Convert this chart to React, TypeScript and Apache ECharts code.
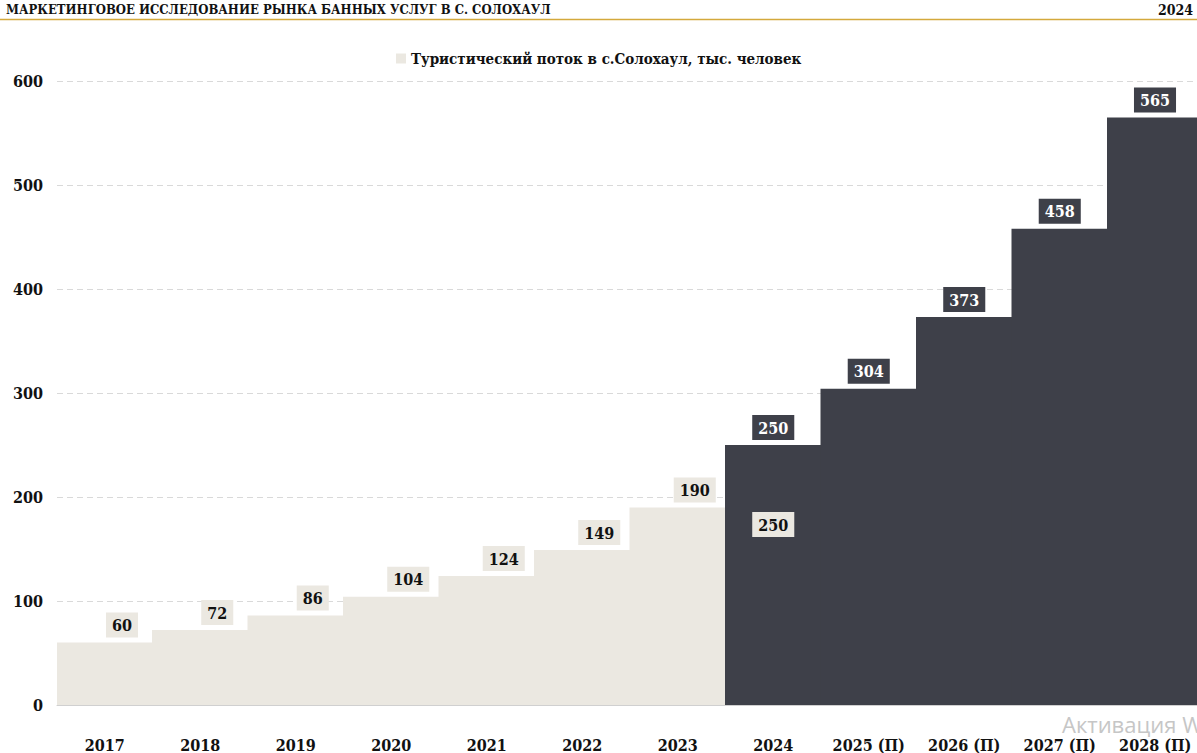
import React, { useEffect, useRef } from "react";
import * as echarts from "echarts";

const categories = ["2017", "2018", "2019", "2020", "2021", "2022", "2023", "2024", "2025 (П)", "2026 (П)", "2027 (П)", "2028 (П)"];
const historyValues = [60, 72, 86, 104, 124, 149, 190, 250, null, null, null, null];
const forecastValues = [null, null, null, null, null, null, null, 250, 304, 373, 458, 565];
const yTicks = [0, 100, 200, 300, 400, 500, 600];
const legendName = "Туристический поток в с.Солохаул, тыс. человек";
const titleText = "МАРКЕТИНГОВОЕ ИССЛЕДОВАНИЕ РЫНКА БАННЫХ УСЛУГ В С. СОЛОХАУЛ";
const yearText = "2024";

const SERIF = "'DejaVu Serif Condensed', 'DejaVu Serif', serif";
const BEIGE = "#ebe8e1";
const DARK = "#3e4049";

export default function App() {
  const ref = useRef<HTMLDivElement>(null);
  useEffect(() => {
    if (!ref.current) return;
    const chart = echarts.init(ref.current, null, { renderer: "svg" });
    const histData = historyValues.map((v, i) => {
      if (v === null) return "-";
      if (i === 7) {
        return { value: v, label: { position: "insideTop", distance: 67, offset: [0, 0] } };
      }
      return v;
    });
    const fcData = forecastValues.map((v) => (v === null ? "-" : v));
    const labelBase = {
      show: true,
      fontFamily: SERIF,
      fontWeight: "bold",
      fontSize: 16,
      padding: [5, 6, 4, 6],
      distance: 5,
    };
    chart.setOption({
      animation: false,
      graphic: [
        { type: "text", left: 6, top: 3, style: { text: titleText, font: `bold 13px ${SERIF}`, fill: "#111" } },
        { type: "text", x: 1193, y: 3, style: { text: yearText, align: "right", verticalAlign: "top", font: `bold 14px ${SERIF}`, fill: "#111" } },
        { type: "line", shape: { x1: 0, y1: 19.5, x2: 1197, y2: 19.5 }, style: { stroke: "#d4a93c", lineWidth: 1.5 } },
        { type: "text", left: 1062, top: 713, style: { text: "Активация W", font: "22px 'Open Sans', sans-serif", fill: "#c6c6c6" } },
      ],
      legend: {
        data: [legendName],
        top: 46,
        left: 391,
        icon: "rect",
        itemWidth: 10,
        itemHeight: 10,
        itemGap: 4,
        textStyle: { fontFamily: SERIF, fontWeight: "bold", fontSize: 15, color: "#111" },
        selectedMode: false,
      },
      grid: { left: 57, top: 81, right: 0, bottom: 48, containLabel: false },
      xAxis: {
        type: "category",
        data: categories,
        axisLine: { show: true, lineStyle: { color: "#d0d0d0", width: 1 } },
        axisTick: { show: false },
        axisLabel: { margin: 32, fontFamily: SERIF, fontWeight: "bold", fontSize: 16, color: "#111" },
      },
      yAxis: {
        type: "value",
        min: yTicks[0],
        max: yTicks[yTicks.length - 1],
        interval: 100,
        axisLine: { show: false },
        axisTick: { show: false },
        axisLabel: { margin: 14, fontFamily: SERIF, fontWeight: "bold", fontSize: 16, color: "#111" },
        splitLine: { lineStyle: { color: "#d9d9d9", type: [6, 4], width: 1 } },
      },
      series: [
        {
          name: legendName,
          type: "bar",
          data: histData,
          barGap: "-100%",
          barWidth: 96.5,
          itemStyle: { color: BEIGE },
          label: { ...labelBase, position: "top", offset: [17, 0], color: "#111", backgroundColor: BEIGE },
          z: 2,
        },
        {
          name: "Прогноз",
          type: "bar",
          data: fcData,
          barGap: "-100%",
          barWidth: 96.5,
          itemStyle: { color: DARK },
          label: { ...labelBase, position: "top", color: "#fff", backgroundColor: DARK },
          z: 2,
        },
      ],
    });
    return () => chart.dispose();
  }, []);
  return (
    <div style={{ position: "absolute", left: 0, top: 0, width: 1197, height: 753, overflow: "hidden" }}>
      <div ref={ref} style={{ width: 1203, height: 753 }} />
    </div>
  );
}
